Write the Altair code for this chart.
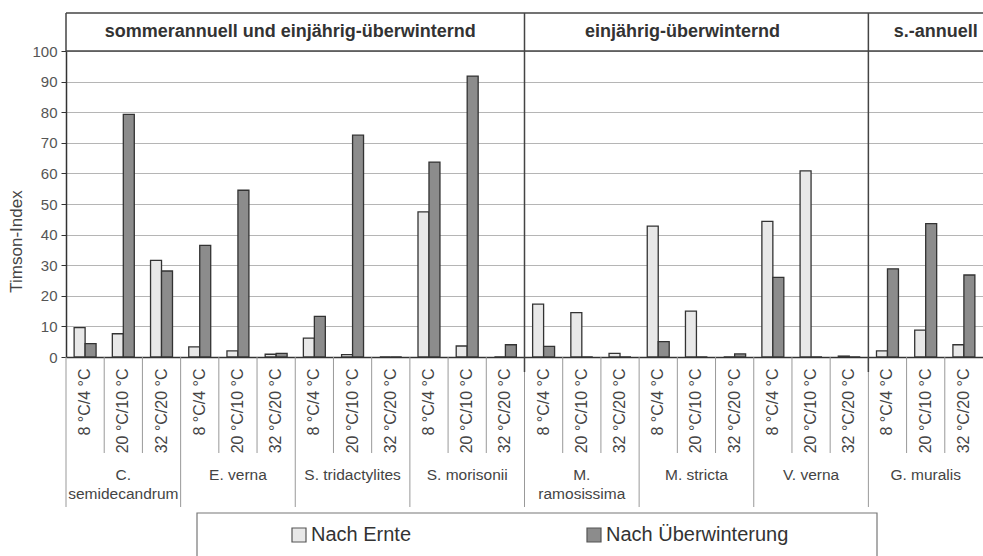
import altair as alt
import pandas as pd

# ---------------- data ----------------
species = ["C. semidecandrum", "E. verna", "S. tridactylites", "S. morisonii",
           "M. ramosissima", "M. stricta", "V. verna", "G. muralis"]
species_labels = ["C.\nsemidecandrum", "E. verna", "S. tridactylites", "S. morisonii",
                  "M.\nramosissima", "M. stricta", "V. verna", "G. muralis"]
temps = ["8 °C/4 °C", "20 °C/10 °C", "32 °C/20 °C"]
series = ["Nach Ernte", "Nach Überwinterung"]

nach_ernte = [9.6, 7.6, 31.6,
              3.3, 2.0, 0.9,
              6.2, 0.8, 0.0,
              47.4, 3.6, 0.0,
              17.3, 14.5, 1.2,
              42.8, 15.0, 0.0,
              44.3, 60.8, 0.3,
              2.0, 8.8, 4.0]
nach_ueberwinterung = [4.4, 79.3, 28.1,
                       36.5, 54.5, 1.2,
                       13.3, 72.5, 0.0,
                       63.7, 91.8, 4.0,
                       3.5, 0.0, 0.0,
                       5.0, 0.0, 1.0,
                       26.0, 0.0, 0.0,
                       28.8, 43.6, 26.8]

groups = ["sommerannuell und einjährig-überwinternd", "einjährig-überwinternd", "s.-annuell"]
group_first_species = [0, 4, 7]

# ---------------- tables ----------------
keys = [f"{s}|{t}" for s in species for t in temps]

bar_rows = []
for k, key in enumerate(keys):
    bar_rows.append({"key": key, "series": series[0], "value": nach_ernte[k]})
    bar_rows.append({"key": key, "series": series[1], "value": nach_ueberwinterung[k]})
bars_df = pd.DataFrame(bar_rows)

species_df = pd.DataFrame({"key": [f"{s}|{temps[1]}" for s in species],
                           "label": species_labels})
sp_sep_df = pd.DataFrame({"key": [f"{s}|{temps[0]}" for s in species]})
t_sep_df = pd.DataFrame({"key": [f"{s}|{t}" for s in species for t in temps[1:]]})
grp_sep_df = pd.DataFrame({"key": [f"{species[i]}|{temps[0]}" for i in group_first_species[1:]]})
one = pd.DataFrame({"a": [0]})

W, H = 917, 306

xscale = alt.Scale(domain=keys, paddingInner=0, paddingOuter=0)
xaxis = alt.Axis(title=None, labelAngle=-90, labelAlign="right", labelBaseline="middle",
                 labelExpr="split(datum.label, '|')[1]", labelFontSize=16,
                 labelFont="Liberation Sans", labelColor="#444", labelPadding=11,
                 ticks=False, domainColor="#333", domainWidth=1.5, labelOverlap=False,
                 grid=False)


def X(**kw):
    return alt.X("key:N", scale=xscale, axis=xaxis, **kw)


bars = alt.Chart(bars_df).mark_bar(stroke="#333", strokeWidth=1.3).encode(
    x=X(),
    xOffset=alt.XOffset("series:N", sort=series,
                        scale=alt.Scale(domain=series, paddingInner=0, paddingOuter=0.74)),
    y=alt.Y("value:Q", scale=alt.Scale(domain=[0, 100], nice=False),
            axis=alt.Axis(title="Timson-Index", values=list(range(0, 101, 10)),
                          labelFontSize=15, labelFont="Liberation Sans", labelColor="#555",
                          tickSize=5, tickColor="#333", domainColor="#333", domainWidth=1.5,
                          gridColor="#b5b5b5", gridWidth=1, labelPadding=4,
                          titleFontSize=17, titleFont="Liberation Sans",
                          titleFontWeight="normal", titleColor="#444",
                          titleX=-41, titleY=190)),
    fill=alt.Fill("series:N", sort=series,
                  scale=alt.Scale(domain=series, range=["#e8e8e8", "#8c8c8c"]),
                  legend=alt.Legend(title=None, orient="none", legendX=223, legendY=474,
                                    direction="horizontal", symbolType="square",
                                    symbolSize=196, symbolStrokeColor="#555",
                                    symbolStrokeWidth=1.2, labelFontSize=20,
                                    labelFont="Liberation Sans", labelColor="#333",
                                    columnPadding=172, labelOffset=2, padding=0,
                                    labelLimit=400)),
)

# temperature separators below axis
t_sep = alt.Chart(t_sep_df).mark_rule(color="#999", strokeWidth=1).encode(
    x=X(bandPosition=0), y=alt.value(H), y2=alt.value(H + 96))
# species separators below axis
sp_sep = alt.Chart(sp_sep_df).mark_rule(color="#999", strokeWidth=1).encode(
    x=X(bandPosition=0), y=alt.value(H), y2=alt.value(H + 150))
# group dividers
grp_sep = alt.Chart(grp_sep_df).mark_rule(color="#444", strokeWidth=1.5).encode(
    x=X(bandPosition=0), y=alt.value(-38), y2=alt.value(H + 15))

# header frame
hdr_top = alt.Chart(one).mark_rule(color="#444", strokeWidth=1.5).encode(
    x=alt.value(0), x2=alt.value(W), y=alt.value(-38))
hdr_bottom = alt.Chart(one).mark_rule(color="#444", strokeWidth=1.5).encode(
    x=alt.value(0), x2=alt.value(W), y=alt.value(0))
hdr_left = alt.Chart(one).mark_rule(color="#444", strokeWidth=1.5).encode(
    x=alt.value(0), y=alt.value(-38), y2=alt.value(0))

# header texts
hdr_specs = [(groups[0], f"{species[1]}|{temps[2]}", 14),
             (groups[1], f"{species[5]}|{temps[1]}", -14),
             (groups[2], f"{species[7]}|{temps[1]}", 10)]
hdr_texts = []
for name, key, dx in hdr_specs:
    hdr_texts.append(
        alt.Chart(pd.DataFrame({"key": [key], "label": [name]})).mark_text(
            fontSize=18, fontWeight="bold", font="Liberation Sans", color="#333",
            baseline="middle", align="center", dx=dx).encode(
            x=X(), y=alt.value(-19), text="label:N"))

# species labels
sp_text = alt.Chart(species_df).mark_text(
    lineBreak="\n", baseline="top", align="center", fontSize=15.5,
    font="Liberation Sans", color="#444", lineHeight=19).encode(
    x=X(), y=alt.value(H + 111), text="label:N")

# legend frame
leg_box = alt.Chart(one).mark_rect(fill="transparent", stroke="#777", strokeWidth=1.2).encode(
    x=alt.value(131), x2=alt.value(811), y=alt.value(462), y2=alt.value(520))

chart = alt.layer(
    bars, t_sep, sp_sep, grp_sep, hdr_top, hdr_bottom, hdr_left,
    *hdr_texts, sp_text, leg_box
).properties(
    width=W, height=H,
    padding={"left": 66, "top": 51, "right": 0, "bottom": 199},
    autosize=alt.AutoSizeParams(type="none"),
    background="white",
).configure_view(stroke=None)

chart.save("out.html", embed_options={"renderer": "svg", "actions": False})
